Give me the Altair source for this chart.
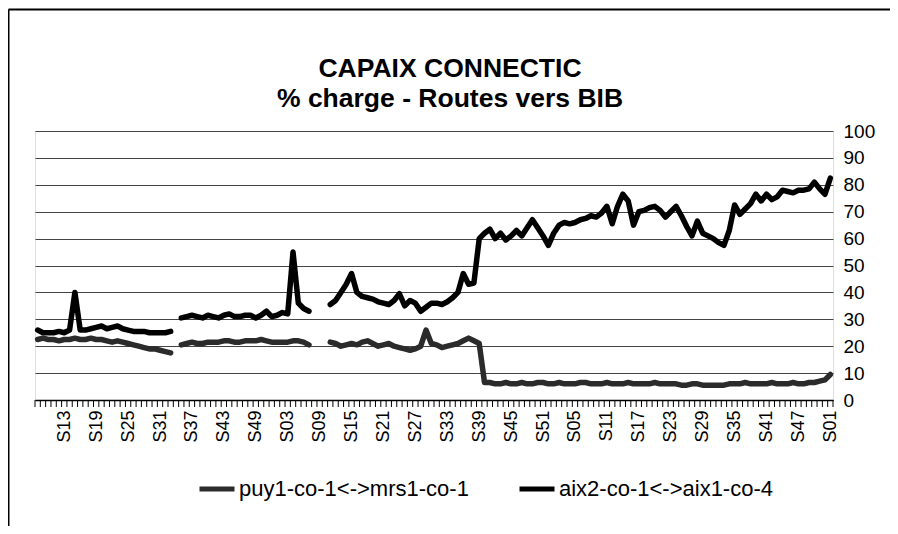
import altair as alt
import pandas as pd

TITLE_LINES = ["CAPAIX CONNECTIC", "% charge - Routes vers BIB"]
SERIES = ["puy1-co-1<->mrs1-co-1", "aix2-co-1<->aix1-co-4"]
COLORS = ["#2b2b2b", "#000000"]
TICK_LABELS = ["S13", "S19", "S25", "S31", "S37", "S43", "S49", "S03", "S09",
               "S15", "S21", "S27", "S33", "S39", "S45", "S51", "S05", "S11",
               "S17", "S23", "S29", "S35", "S41", "S47", "S01"]
FIRST_LABEL_INDEX = 5
LABEL_STEP = 6
N_WEEKS = 150
Y_TICKS = [0, 10, 20, 30, 40, 50, 60, 70, 80, 90, 100]

N = None
AIX2 = [
    26, 25, 25, 25, 25.5, 25, 26, 40, 26, 26,
    26.5, 27, 27.5, 26.5, 27, 27.5, 26.5, 26, 25.5, 25.5,
    25.5, 25, 25, 25, 25, 25.5, N, 30.5, 31, 31.5,
    31, 30.5, 31.5, 31, 30.5, 31.5, 32, 31, 31, 31.5,
    31.5, 30.5, 31.5, 33, 31, 31.5, 32.5, 32, 55, 36,
    34, 33, N, N, N, 35.5, 37, 40, 43, 47,
    40, 38.5, 38, 37.5, 36.5, 36, 35.5, 37, 39.5, 35,
    37, 36, 33, 34.5, 36, 36, 35.5, 36.5, 38, 40,
    47, 43, 43.5, 60, 62, 63.5, 60, 62, 59.5, 61,
    63, 61, 64, 67, 64, 61, 57.5, 62, 65, 66,
    65.5, 66, 67, 67.5, 68.5, 68, 69.5, 72, 65.5, 72,
    76.5, 74, 65, 70, 70.5, 71.5, 72, 70.5, 68, 70,
    72, 68.5, 64.5, 61, 66.5, 62, 61, 60, 58.5, 57.5,
    63, 72.5, 69, 71, 73, 76.5, 74, 76.5, 74.5, 75.5,
    78, 77.5, 77, 78, 78, 78.5, 81, 78.5, 76.5, 82.5,
]
PUY1 = [
    22.5, 23, 22.5, 22.5, 22, 22.5, 22.5, 23, 22.5, 22.5,
    23, 22.5, 22.5, 22, 21.5, 22, 21.5, 21, 20.5, 20,
    19.5, 19, 19, 18.5, 18, 17.5, N, 20.5, 21, 21.5,
    21, 21, 21.5, 21.5, 21.5, 22, 22, 21.5, 21.5, 22,
    22, 22, 22.5, 22, 21.5, 21.5, 21.5, 21.5, 22, 22,
    21.5, 20.5, N, N, N, 21.5, 21, 20, 20.5, 21,
    20.5, 21.5, 22, 21, 20, 20.5, 21, 20, 19.5, 19,
    18.5, 19, 20, 26, 21, 20.5, 19.5, 20, 20.5, 21,
    22, 23, 22, 21, 6.5,
    6.5, 6, 6, 6.5, 6, 6, 6.5, 6, 6, 6.5, 6.5,
    6, 6, 6.5, 6, 6, 6, 6.5, 6.5, 6, 6, 6,
    6.5, 6, 6, 6, 6.5, 6, 6, 6, 6, 6.5, 6,
    6, 6, 6, 5.5, 5.5, 6, 6, 5.5, 5.5, 5.5, 5.5,
    5.5, 6, 6, 6, 6.5, 6, 6, 6, 6, 6.5, 6,
    6, 6, 6.5, 6, 6, 6.5, 6.5,
    7, 7.5, 9.5,
]

rows = []
for name, vals in zip(SERIES, [PUY1, AIX2]):
    seg = 0
    for i, v in enumerate(vals):
        if v is None:
            seg += 1
            continue
        rows.append({"i": i, "v": v, "series": name, "key": f"{name}#{seg}"})
df = pd.DataFrame(rows)

label_pos = [FIRST_LABEL_INDEX + LABEL_STEP * k for k in range(len(TICK_LABELS))]
label_expr = "{}[indexof({}, datum.value)]".format(
    "[" + ",".join("'%s'" % t for t in TICK_LABELS) + "]",
    "[" + ",".join(str(p) for p in label_pos) + "]",
)

W, H = 798, 269
xscale = alt.Scale(domain=[-0.5, N_WEEKS - 0.5], nice=False, zero=False)
x_axis = alt.Axis(values=label_pos, labelExpr=label_expr, ticks=False, grid=False,
                  domainColor="#000000", domainWidth=1.5, labelAngle=270,
                  labelFont="Liberation Sans", labelFontSize=18, labelColor="#000000",
                  labelPadding=10, labelOverlap=False, labelSeparation=0, title=None)

lines = alt.Chart(df).mark_line(strokeWidth=5.5, strokeJoin="round", strokeCap="round").encode(
    x=alt.X("i:Q", scale=xscale, axis=x_axis),
    y=alt.Y("v:Q", scale=alt.Scale(domain=[0, 100], nice=False),
            axis=alt.Axis(orient="right", values=Y_TICKS, grid=True, gridColor="#444444",
                          gridWidth=1, domain=False, ticks=False, labelFont="Liberation Sans",
                          labelFontSize=19, labelColor="#000000", labelPadding=10, title=None)),
    color=alt.Color("series:N", scale=alt.Scale(domain=SERIES, range=COLORS),
                    legend=alt.Legend(orient="none", legendX=162, legendY=338,
                                      direction="horizontal", title=None,
                                      symbolType="stroke", symbolSize=1225,
                                      symbolStrokeWidth=5, labelFont="Liberation Sans",
                                      labelFontSize=22, labelColor="#000000",
                                      labelOffset=2, columnPadding=40, padding=0,
                                      labelLimit=0)),
    detail="key:N",
    order="i:Q",
)

comb_df = pd.DataFrame({"i": [k - 0.5 for k in range(N_WEEKS + 1)]})
comb = alt.Chart(comb_df).mark_rule(color="#000000", strokeWidth=1).encode(
    x=alt.X("i:Q", scale=xscale, axis=x_axis),
    y=alt.value(H),
    y2=alt.value(H + 7),
)

frame_df = pd.DataFrame({"k": [0]})
frame_left = alt.Chart(frame_df).mark_rule(color="#000000", strokeWidth=2).encode(
    x=alt.value(-26.5), y=alt.value(-121.5), y2=alt.value(H + 140)
)
frame_top = alt.Chart(frame_df).mark_rule(color="#000000", strokeWidth=2).encode(
    x=alt.value(-26.5), x2=alt.value(W + 80), y=alt.value(-121.5)
)

chart = alt.layer(lines, comb, frame_left, frame_top).properties(
    width=W, height=H,
    title=alt.TitleParams(text=TITLE_LINES, font="Liberation Sans",
                          fontSize=26.5, fontWeight="bold", color="#000000",
                          anchor="middle", frame="group", offset=18, dx=16, dy=122,
                          lineHeight=30),
    autosize=alt.AutoSizeParams(type="none"),
    padding={"left": 27, "top": 123, "right": 57, "bottom": 126},
).configure_view(stroke=None).configure_axisX(labelOverlap=False).configure(background="#ffffff")

chart.save("out.html", embed_options={"renderer": "svg", "actions": False})
